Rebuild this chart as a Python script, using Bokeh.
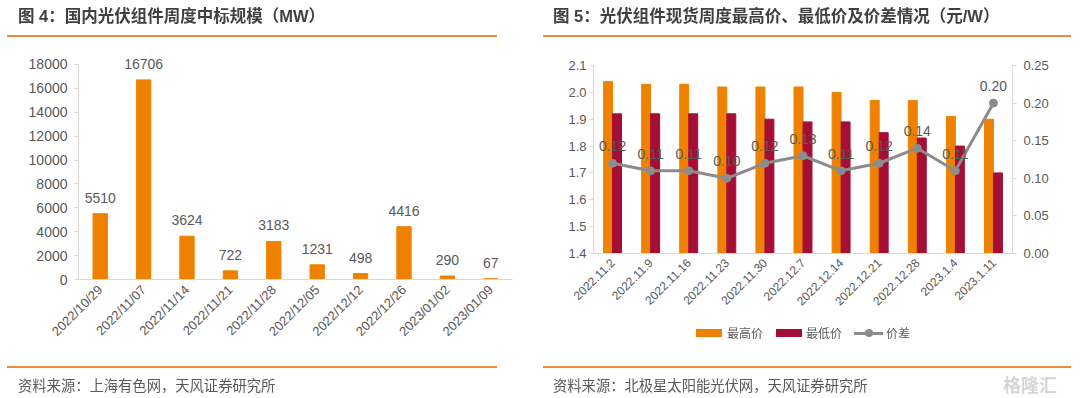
from math import pi
from bokeh.plotting import figure
from bokeh.models import (ColumnDataSource, Range1d, FactorRange, LinearAxis, FixedTicker,
                          NumeralTickFormatter, Div, Spacer)
from bokeh.layouts import column, row
from bokeh.transform import dodge
from bokeh.core.properties import value
from bokeh.embed import file_html
from bokeh.resources import INLINE

# ---------------- data ----------------
dates = ["2022/10/29", "2022/11/07", "2022/11/14", "2022/11/21", "2022/11/28",
         "2022/12/05", "2022/12/12", "2022/12/26", "2023/01/02", "2023/01/09"]
mw = [5510, 16706, 3624, 722, 3183, 1231, 498, 4416, 290, 67]
mw_ticks = [0, 2000, 4000, 6000, 8000, 10000, 12000, 14000, 16000, 18000]

weeks = ["2022.11.2", "2022.11.9", "2022.11.16", "2022.11.23", "2022.11.30", "2022.12.7",
         "2022.12.14", "2022.12.21", "2022.12.28", "2023.1.4", "2023.1.11"]
highs = [2.04, 2.03, 2.03, 2.02, 2.02, 2.02, 2.00, 1.97, 1.97, 1.91, 1.90]
lows = [1.92, 1.92, 1.92, 1.92, 1.90, 1.89, 1.89, 1.85, 1.83, 1.80, 1.70]
diffs = [0.12, 0.11, 0.11, 0.10, 0.12, 0.13, 0.11, 0.12, 0.14, 0.11, 0.20]
price_ticks = [1.4, 1.5, 1.6, 1.7, 1.8, 1.9, 2.0, 2.1]
diff_ticks = [0.0, 0.05, 0.10, 0.15, 0.20, 0.25]

title_left = "图 4：国内光伏组件周度中标规模（MW）"
title_right = "图 5：光伏组件现货周度最高价、最低价及价差情况（元/W）"
source_left = "资料来源：上海有色网，天风证券研究所"
source_right = "资料来源：北极星太阳能光伏网，天风证券研究所"
legend_labels = ["最高价", "最低价", "价差"]
watermark = "格隆汇"

# ---------------- style ----------------
LATIN = "'Liberation Sans', 'Noto Sans CJK SC', sans-serif"
NUM = "Liberation Sans"
CJK = "'Noto Sans CJK SC', sans-serif"
TXT = "#595959"
AXIS = "#D9D9D9"
ORANGE = "#EE8200"
CRIMSON = "#A50E35"
GREY = "#8C8C8C"
RULE = "#F08A3C"


def style_fig(p, fill):
    p.xgrid.grid_line_color = None
    p.ygrid.grid_line_color = None
    p.outline_line_color = None
    p.background_fill_color = fill
    p.border_fill_color = fill
    p.title.visible = False


def style_axis(ax, size):
    ax.axis_line_color = AXIS
    ax.major_tick_line_color = AXIS
    ax.minor_tick_line_color = None
    ax.major_tick_in = 0
    ax.major_tick_out = 4
    ax.major_label_text_font = NUM
    ax.major_label_text_font_size = size
    ax.major_label_text_color = TXT


# ---------------- left chart ----------------
# the y range runs a little above the top tick so the top value label is not clipped;
# the axis line itself stops at 18000
p1 = figure(x_range=FactorRange(*dates, range_padding=0), y_range=Range1d(0, 19500),
            width=540, height=322, min_border_left=78, min_border_right=28,
            min_border_top=8, min_border_bottom=81,
            output_backend="svg", toolbar_location=None)
style_fig(p1, "white")
src1 = ColumnDataSource(dict(d=dates, v=mw, lab=[str(v) for v in mw]))
p1.vbar(x="d", top="v", width=0.33, source=src1, color=ORANGE)
p1.text(x="d", y="v", text="lab", source=src1, text_align="center", text_baseline="bottom",
        y_offset=-11, text_font_size="14px", text_color=TXT, text_font=value(NUM))
style_axis(p1.xaxis[0], "13px")
p1.xaxis.major_tick_line_color = None
p1.xaxis.major_tick_out = 0
p1.xaxis.major_label_orientation = pi / 4
p1.xaxis.major_label_standoff = 8
style_axis(p1.yaxis[0], "14px")
p1.yaxis.ticker = FixedTicker(ticks=mw_ticks)
p1.yaxis.bounds = (mw_ticks[0], mw_ticks[-1])
p1.yaxis.major_label_standoff = 7

# ---------------- right chart ----------------
p2 = figure(x_range=FactorRange(*weeks, range_padding=0), y_range=Range1d(1.4, 2.1),
            width=540, height=322, min_border_left=53, min_border_right=68,
            min_border_top=27, min_border_bottom=107,
            output_backend="svg", toolbar_location=None)
style_fig(p2, None)
p2.extra_y_ranges = {"diff": Range1d(0, 0.25)}
src2 = ColumnDataSource(dict(w=weeks, hi=highs, lo=lows, df=diffs,
                             lab=[f"{v:.2f}" for v in diffs]))
p2.vbar(x=dodge("w", -0.118, range=p2.x_range), top="hi", bottom=1.4, width=0.235,
        source=src2, color=ORANGE)
p2.vbar(x=dodge("w", 0.118, range=p2.x_range), top="lo", bottom=1.4, width=0.235,
        source=src2, color=CRIMSON)
p2.line(x="w", y="df", source=src2, y_range_name="diff", line_color=GREY, line_width=3)
p2.scatter(x="w", y="df", source=src2, y_range_name="diff", size=8,
           fill_color=GREY, line_color=GREY)
p2.text(x="w", y="df", text="lab", source=src2, y_range_name="diff", text_align="center",
        text_baseline="bottom", y_offset=-12, text_font_size="14px", text_color=TXT,
        text_font=value(NUM))

style_axis(p2.xaxis[0], "12px")
p2.xaxis.major_tick_line_color = None
p2.xaxis.major_tick_out = 0
p2.xaxis.major_label_orientation = pi / 4
p2.xaxis.major_label_standoff = 7
style_axis(p2.yaxis[0], "13px")
p2.yaxis.ticker = FixedTicker(ticks=price_ticks)
p2.yaxis.formatter = NumeralTickFormatter(format="0.0")
p2.yaxis.major_label_standoff = 3

rax = LinearAxis(y_range_name="diff", ticker=FixedTicker(ticks=diff_ticks),
                 formatter=NumeralTickFormatter(format="0.00"))
style_axis(rax, "13px")
rax.major_label_standoff = 7
p2.add_layout(rax, "right")


# ---------------- titles, rules, legend, sources (fixed to the window) ----------------
def box(left, top, w, h, bg, extra=""):
    return (f'<div style="position:fixed;z-index:10;left:{left}px;top:{top}px;width:{w}px;'
            f'height:{h}px;background:{bg};{extra}"></div>')


def txt(left, top, text, font, size, color, lh, weight="normal"):
    return (f'<div style="position:fixed;z-index:10;left:{left}px;top:{top}px;white-space:nowrap;'
            f'font-family:{font};font-size:{size};font-weight:{weight};color:{color};'
            f'line-height:{lh}px;">{text}</div>')


left_html = (txt(18, 7, title_left, LATIN, "16.5px", "#404040", 18, "bold")
             + box(7, 35, 490, 2, RULE)
             + box(7, 366, 490, 2, RULE)
             + txt(18, 377, source_left, CJK, "14.3px", TXT, 16))

right_html = (txt(553, 7, title_right, LATIN, "16.5px", "#404040", 18, "bold")
              + box(543, 35, 528, 2, RULE)
              + box(696, 329, 26, 8, ORANGE)
              + txt(727, 325, legend_labels[0], CJK, "12px", TXT, 16)
              + box(776, 329, 26, 8, CRIMSON)
              + txt(806, 325, legend_labels[1], CJK, "12px", TXT, 16)
              + box(854, 332, 29, 3, GREY)
              + box(865, 329, 8, 8, GREY, "border-radius:50%;")
              + txt(886, 325, legend_labels[2], CJK, "12px", TXT, 16)
              + box(543, 366, 528, 2, RULE)
              + txt(553, 377, source_right, CJK, "14.3px", TXT, 16)
              + txt(1003, 375, watermark, CJK, "18px", "#D6D6D6", 18, "bold"))

deco_l = Div(text=left_html, width=530, height=2, margin=(0, 0, 0, 0))
deco_r = Div(text=right_html, width=530, height=2, margin=(0, 0, 0, 0))

layout = row(column(Spacer(width=540, height=38), p1, deco_l),
             column(Spacer(width=540, height=38), p2, deco_r))

open("out.html", "w").write(file_html(layout, INLINE))
